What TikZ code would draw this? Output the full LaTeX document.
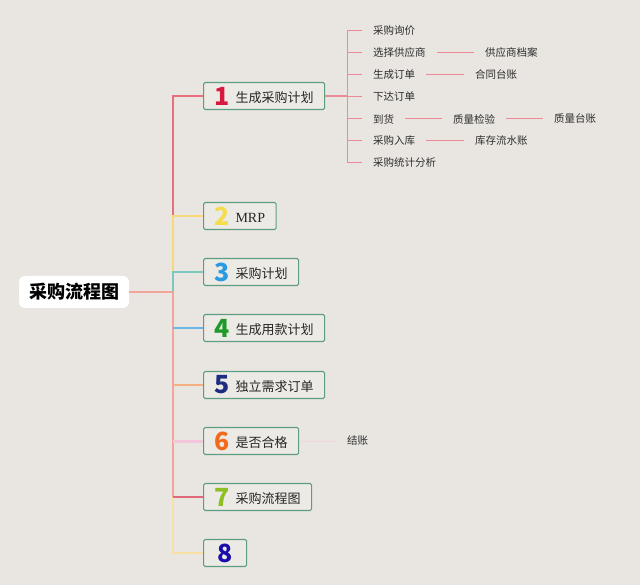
\documentclass[tikz,border=0pt]{standalone}
\usepackage{fontspec}
\setmainfont{Noto Sans CJK SC}
\newfontfamily\mrpfont{Liberation Serif}
\definecolor{bg}{HTML}{E9E6E1}
\definecolor{boxfill}{HTML}{ECEAE5}
\definecolor{boxgreen}{HTML}{5E9E80}
\definecolor{txt}{HTML}{262626}
\definecolor{subtxt}{HTML}{2E2E2E}
\definecolor{cone}{HTML}{D7193F}
\definecolor{ctwo}{HTML}{F5DC4C}
\definecolor{cthree}{HTML}{2A9AE2}
\definecolor{cfour}{HTML}{1F9A2A}
\definecolor{cfive}{HTML}{1C2C80}
\definecolor{csix}{HTML}{F26B1D}
\definecolor{cseven}{HTML}{8DBE22}
\definecolor{ceight}{HTML}{1A0DAB}
\definecolor{lone}{HTML}{E8707C}
\definecolor{ltwo}{HTML}{F8D878}
\definecolor{lthree}{HTML}{7CC8BE}
\definecolor{lfour}{HTML}{6AB4E8}
\definecolor{lfive}{HTML}{F4B080}
\definecolor{lsix}{HTML}{F4C6DC}
\definecolor{lseven}{HTML}{E06878}
\definecolor{leight}{HTML}{F8E0A0}
\definecolor{lspine}{HTML}{F2A59A}
\definecolor{lsub}{HTML}{EC8A96}
\definecolor{lfaint}{HTML}{F2D4DE}
\newcommand{\numtag}[2]{\makebox[15pt]{\textcolor{#1}{\fontsize{25}{25}\selectfont\bfseries #2}}}
\newcommand{\boxtext}[1]{\raisebox{2.5pt}{#1}}
\begin{document}
\begin{tikzpicture}[x=1pt,y=-1pt,
  box/.style={draw=boxgreen, line width=1.1pt, fill=boxfill, rounded corners=1.5pt,
    minimum height=27pt, inner xsep=11pt, inner ysep=0pt, anchor=west,
    font=\fontsize{13}{13}\selectfont, text=txt},
  rootbox/.style={fill=white, rounded corners=6pt, minimum width=110pt, minimum height=32pt,
    font=\fontsize{18}{18}\selectfont\bfseries, text=black},
  subitem/.style={anchor=west, inner xsep=11pt, inner ysep=2pt,
    font=\fontsize{10.5}{10.5}\selectfont, text=subtxt},
  subline/.style={draw=lsub, line width=1pt},
  link/.style={line width=1.3pt}
]
\fill[bg] (0,0) rectangle (640,585);
\useasboundingbox (0,0) rectangle (640,585);

% root and main nodes
\node[rootbox] (root) at (74,292) {采购流程图};
\coordinate (hub) at (173,292);
\node[box] (n1) at (203,96) {\numtag{cone}{1}\hspace{6pt}\boxtext{生成采购计划}};
\node[box] (n2) at (203,216) {\numtag{ctwo}{2}\hspace{6pt}\boxtext{\mrpfont\fontsize{14}{14}\selectfont MRP}};
\node[box] (n3) at (203,272) {\numtag{cthree}{3}\hspace{6pt}\boxtext{采购计划}};
\node[box] (n4) at (203,328) {\numtag{cfour}{4}\hspace{6pt}\boxtext{生成用款计划}};
\node[box] (n5) at (203,385) {\numtag{cfive}{5}\hspace{6pt}\boxtext{独立需求订单}};
\node[box] (n6) at (203,441) {\numtag{csix}{6}\hspace{6pt}\boxtext{是否合格}};
\node[box] (n7) at (203,497) {\numtag{cseven}{7}\hspace{6pt}\boxtext{采购流程图}};
\node[box, inner xsep=14pt] (n8) at (203,553) {\numtag{ceight}{8}};

% main connectors
\draw[link, lone, line width=1.6pt] (hub) |- (n1.west);
\draw[link, ltwo, line width=1.8pt] (hub) |- (n2.west);
\draw[link, lthree, line width=1.4pt] (hub) |- (n3.west);
\draw[link, leight, line width=1.2pt] (hub) |- (n8.west);
\draw[link, lspine, line width=1.6pt] (hub) -- (hub |- n7.west);
\draw[link, lfour, line width=1.2pt] (hub |- n4.west) -- (n4.west);
\draw[link, lfive, line width=1.2pt] (hub |- n5.west) -- (n5.west);
\draw[link, lsix, line width=3pt] (hub |- n6.west) -- (n6.west);
\draw[link, lseven, line width=2.6pt] (hub |- n7.west) -- (n7.west);
\draw[link, lspine, line width=1.8pt] (root.east) -- (hub);

% sub items of node 1
\coordinate (sb) at (347,96);
\node[subitem] (s1) at (362,31) {采购询价};
\node[subitem] (s2) at (362,53) {选择供应商};
\node[subitem] (s3) at (362,75) {生成订单};
\node[subitem] (s4) at (362,97) {下达订单};
\node[subitem] (s5) at (362,119) {到货};
\node[subitem] (s6) at (362,141) {采购入库};
\node[subitem] (s7) at (362,163) {采购统计分析};
\node[subitem] (t2) at (474,53) {供应商档案};
\node[subitem] (t3) at (464,75) {合同台账};
\node[subitem] (t5) at (442,119) {质量检验};
\node[subitem] (u5) at (543,119) {质量台账};
\node[subitem] (t6) at (464,141) {库存流水账};
\node[subitem] (j6) at (336,441) {结账};

\draw[subline, line width=1.4pt] (n1.east) -- (sb);
\foreach \s in {s1,s2,s3,s4,s5,s6,s7} \draw[subline] (sb) |- (\s.west);
\draw[subline] (s2.east) -- (t2.west);
\draw[subline] (s3.east) -- (t3.west);
\draw[subline] (s5.east) -- (t5.west);
\draw[subline] (t5.east) -- (u5.west);
\draw[subline] (s6.east) -- (t6.west);
\draw[draw=lfaint, line width=1pt] (n6.east) -- (j6.west);
\end{tikzpicture}
\end{document}
